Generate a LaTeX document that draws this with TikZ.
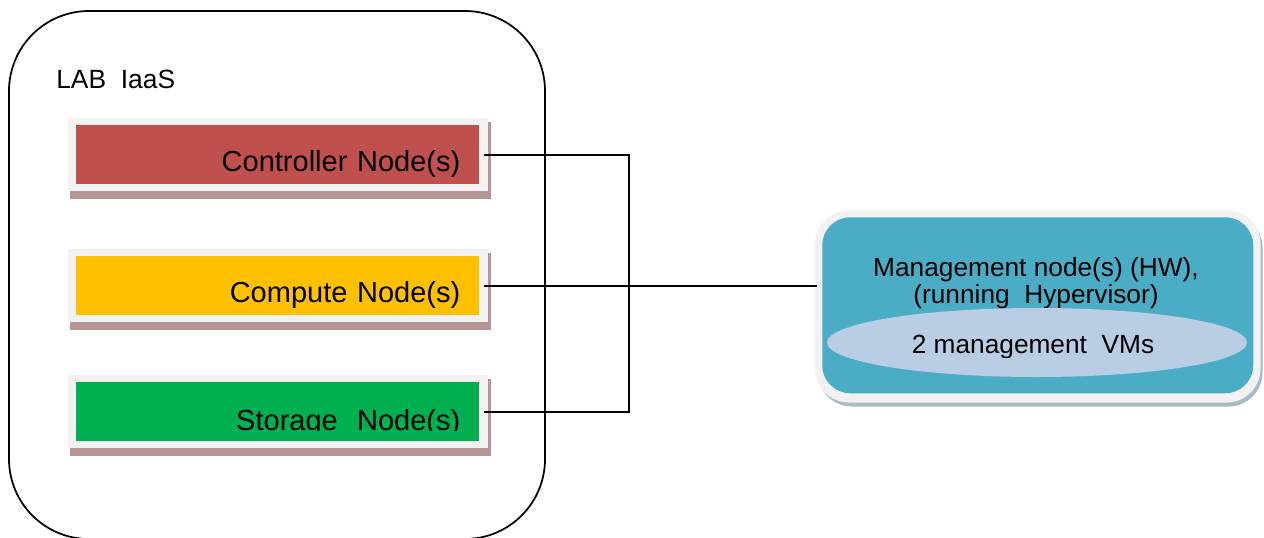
\documentclass[tikz,border=0pt]{standalone}
\usepackage{fontspec}
\setmainfont{Liberation Sans}
\usetikzlibrary{backgrounds,shapes.geometric}

% one drawing unit = one pixel of the 1264 x 537 canvas
\newdimen\pxu \pxu=0.75pt

\definecolor{ctlred}{HTML}{C0504D}
\definecolor{cmpyellow}{HTML}{FFC000}
\definecolor{stogreen}{HTML}{00B050}
\definecolor{mgmtteal}{HTML}{4BACC6}
\definecolor{vmblue}{HTML}{B9CDE5}
\definecolor{framegray}{HTML}{F2F2F2}
\definecolor{boxshadow}{HTML}{B59595}
\definecolor{mgmtshadow}{HTML}{A8BCC2}

\newcommand\rolefont{\fontsize{21.75}{26}\selectfont}
\newcommand\mgmtfont{\fontsize{19.7}{20.25}\selectfont}
\newcommand\labfont{\fontsize{19.8}{24}\selectfont}

\begin{document}
\begin{tikzpicture}[x=\pxu, y=-\pxu,
  rolebox/.style={fill=#1, anchor=north west, text width=365\pxu, align=right,
    inner xsep=19\pxu, inner ysep=0pt, text height=46\pxu, text depth=13\pxu,
    font=\rolefont},
  roleframe/.style={fill=framegray},
  roleshadow/.style={fill=boxshadow},
  wire/.style={draw=black, line width=1.1pt}]

\useasboundingbox (0,0) rectangle (1264,537);

% LAB IaaS enclosure
\draw[line width=1.3pt, rounded corners=80\pxu] (9,11) rectangle (545,539);
\node[anchor=base west, font=\labfont, inner sep=0pt] (lab) at (56,88) {LAB\ \ IaaS};

% node role boxes
\node[rolebox=ctlred] (ctl) at (76,125) {Controller Node(s)};
\node[rolebox=cmpyellow] (cmp) at (76,256) {Compute Node(s)};
\node[rolebox=stogreen] (sto) at (76,382) {};
\begin{scope}
  \clip (sto.north west) rectangle ([yshift=11\pxu]sto.south east);
  \node[rolebox=none, text height=48\pxu, text depth=11\pxu] (stotext) at (sto.north west) {Storage\ \ Node(s)};
\end{scope}

% management host
\node[fill=mgmtteal, rounded corners=28\pxu, anchor=north west,
  minimum width=431\pxu, minimum height=176\pxu, inner sep=0pt] (mgmt) at (822,217) {};
\begin{scope}
  \clip (mgmt.north west) rectangle (1253,308);
  \node[font=\mgmtfont, align=center, anchor=base, inner sep=0pt] (mgmttext) at (1036,303)
    {Management node(s) (HW),\\(running\ \ Hypervisor)};
\end{scope}
\node[ellipse, fill=vmblue, minimum width=420\pxu, minimum height=69\pxu, inner sep=0pt]
  (vms) at (1037,342.5) {};
\begin{scope}
  \clip (vms.north west) rectangle (1253,357);
  \node[font=\mgmtfont, anchor=base, inner sep=0pt] (vmstext) at (1033,353) {2 management\ \ VMs};
\end{scope}

% frames and drop shadows
\begin{scope}[on background layer]
  \foreach \b in {ctl,cmp,sto}{
    \path[roleshadow] ([shift={(-6,-3)}]\b.north west) rectangle ([shift={(11,14)}]\b.south east);
    \path[roleframe] ([shift={(-8,-7)}]\b.north west) rectangle ([shift={(8,6)}]\b.south east);
  }
  \fill[mgmtshadow, rounded corners=34\pxu] ([shift={(-4,-3)}]mgmt.north west) rectangle ([shift={(9,13)}]mgmt.south east);
  \fill[framegray, rounded corners=34\pxu] ([shift={(-7,-7)}]mgmt.north west) rectangle ([shift={(7,9)}]mgmt.south east);
\end{scope}

% connectors
\coordinate (bus) at (629,287);
\draw[wire] ([xshift=4\pxu]ctl.east) -| (bus) |- ([xshift=4\pxu]sto.east);
\draw[wire, shorten >=5\pxu] ([xshift=4\pxu]cmp.east) -- (cmp.east -| mgmt.west);
\end{tikzpicture}
\end{document}
